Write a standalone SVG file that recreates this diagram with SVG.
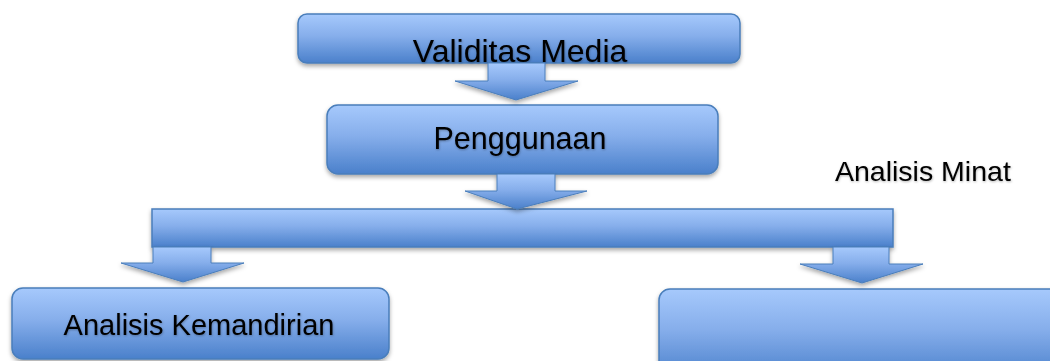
<svg xmlns="http://www.w3.org/2000/svg" width="1050" height="361" viewBox="0 0 1050 361">
<defs>
<linearGradient id="g" x1="0" y1="0" x2="0" y2="1">
<stop offset="0" stop-color="#a6c9fc"/>
<stop offset="0.45" stop-color="#86aeeb"/>
<stop offset="1" stop-color="#4a80cb"/>
</linearGradient>
<filter id="sh" x="-10%" y="-20%" width="120%" height="150%">
<feDropShadow dx="0" dy="2.5" stdDeviation="2" flood-color="#000" flood-opacity="0.35"/>
</filter>
<filter id="tsh" x="-5%" y="-20%" width="110%" height="150%">
<feDropShadow dx="0.5" dy="1" stdDeviation="1" flood-color="#000" flood-opacity="0.3"/>
</filter>
</defs>
<style>
.n{fill:url(#g);stroke:#4a7ebb;stroke-width:1.5;filter:url(#sh)}
.a{fill:url(#g);stroke:#4a7ebb;stroke-width:1;filter:url(#sh)}
.t{font-family:"Liberation Sans",Arial,sans-serif;fill:#000;filter:url(#tsh)}
</style>
<rect width="1050" height="361" fill="#fff"/>
<g id="bar"><rect class="n" x="152" y="209" width="741" height="38"/></g>
<g id="node-validitas">
<rect class="n" x="298" y="14" width="442" height="49" rx="9"/>
<text class="t" x="520" y="62" font-size="32" text-anchor="middle">Validitas Media</text>
</g>
<g id="node-penggunaan">
<rect class="n" x="327" y="105" width="391" height="69" rx="11"/>
<text class="t" x="520" y="149" font-size="30.5" text-anchor="middle">Penggunaan</text>
</g>
<g id="node-kemandirian">
<rect class="n" x="12" y="288" width="377" height="71" rx="11"/>
<text class="t" x="199" y="335" font-size="29" text-anchor="middle">Analisis Kemandirian</text>
</g>
<g id="node-minat">
<rect class="n" x="659" y="289" width="410" height="90" rx="11"/>
</g>
<g id="label-minat">
<text class="t" x="835" y="181" font-size="28.5">Analisis Minat</text>
</g>
<g id="connectors">
<polygon class="a" points="488,63 545,63 545,81 578,81 516,100 455,81 488,81"/>
<polygon class="a" points="497,174 555,174 555,191 587,191 517,209 465,191 497,191"/>
<polygon class="a" points="153,247 211,247 211,263 244,263 183,282 121,263 153,263"/>
<polygon class="a" points="833,247 889,247 889,264 923,264 862,283 800,264 833,264"/>
</g>
</svg>
